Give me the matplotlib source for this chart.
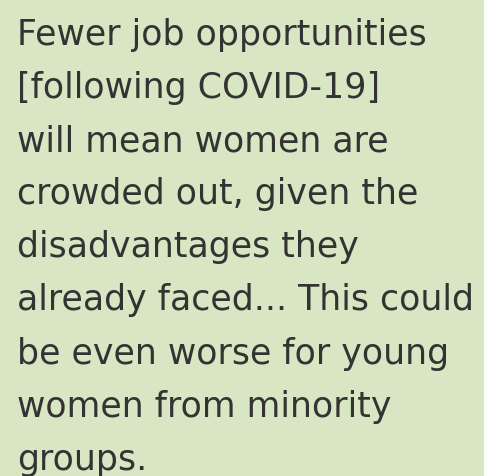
import matplotlib.pyplot as plt

lines = [
    "Fewer job opportunities",
    "[following COVID-19]",
    "will mean women are",
    "crowded out, given the",
    "disadvantages they",
    "already faced... This could",
    "be even worse for young",
    "women from minority",
    "groups.",
]

W, H = 484, 477
fig = plt.figure(figsize=(W / 100, H / 100), dpi=100)
fig.patch.set_facecolor("#d9e6c3")

# baselines in pixels from the top
first_base = 45
step = 53.1
for i, line in enumerate(lines):
    y = 1 - (first_base + i * step) / H
    fig.text(17 / W, y, line, fontsize=25, color="#333333",
             family="DejaVu Sans", ha="left", va="baseline")

plt.savefig("out.png", dpi=100, facecolor=fig.get_facecolor())
